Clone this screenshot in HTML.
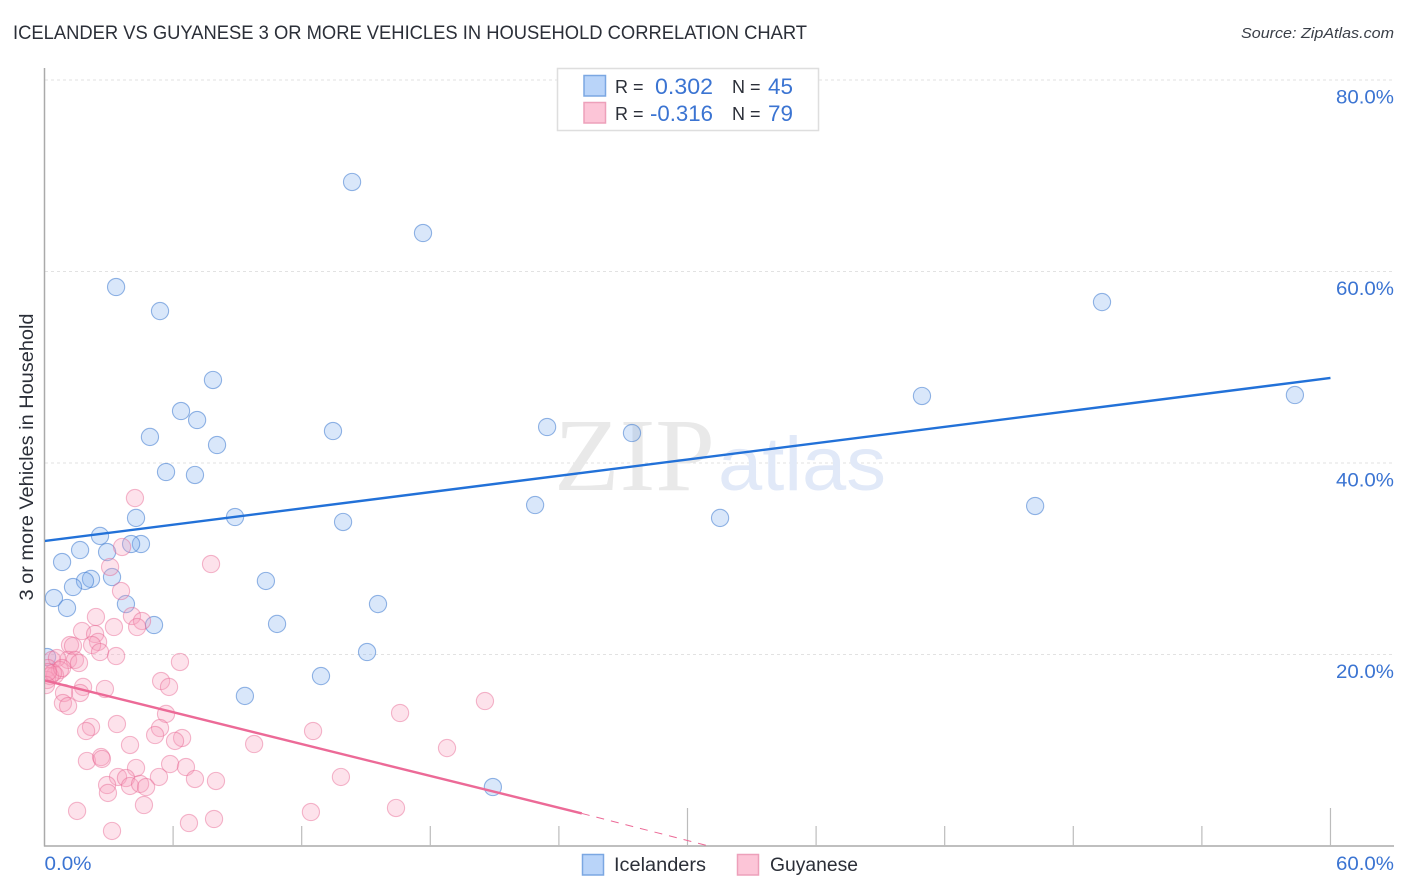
<!DOCTYPE html>
<html lang="en">
<head>
<meta charset="utf-8">
<title>Icelander vs Guyanese 3 or More Vehicles in Household Correlation Chart</title>
<style>
html,body{margin:0;padding:0;background:#fff;width:1406px;height:892px;overflow:hidden}
svg{display:block;font-family:"Liberation Sans",sans-serif}
</style>
</head>
<body>
<svg id="chart" xmlns="http://www.w3.org/2000/svg" width="1406" height="892" viewBox="0 0 1406 892">
  <defs><clipPath id="plot-clip"><rect x="45" y="68" width="1349" height="778"/></clipPath></defs>
  <rect width="1406" height="892" fill="#fff"/>
  <text x="13" y="39" font-size="19" fill="#2b2f38" textLength="794" lengthAdjust="spacingAndGlyphs">ICELANDER VS GUYANESE 3 OR MORE VEHICLES IN HOUSEHOLD CORRELATION CHART</text>
  <text x="1394" y="38" font-size="15" font-style="italic" fill="#3a3f48" text-anchor="end" textLength="153" lengthAdjust="spacingAndGlyphs">Source: ZipAtlas.com</text>
  <g id="grid"></g>
  <g>
    <text x="554" y="490" font-family="'Liberation Serif',serif" font-size="104" fill="#e9e9e9" textLength="161" lengthAdjust="spacingAndGlyphs">ZIP</text>
    <text x="718" y="490" font-family="'Liberation Sans',sans-serif" font-size="76" fill="#e1e9f8" textLength="168" lengthAdjust="spacingAndGlyphs">atlas</text>
  </g>
  <g id="axes"></g>
  <g id="points" clip-path="url(#plot-clip)"></g>
  <g id="trends" clip-path="url(#plot-clip)"></g>
  <g id="labels"></g>
  <text transform="translate(33,457) rotate(-90)" font-size="19" fill="#2b2f38" text-anchor="middle" textLength="287" lengthAdjust="spacingAndGlyphs">3 or more Vehicles in Household</text>

  <g>
    <rect x="557.5" y="68.5" width="261" height="62" fill="#fff" stroke="#dedede" stroke-width="1.5"/>
    <rect x="584" y="75.5" width="21.5" height="20.5" fill="#b9d4f9" stroke="#7ba7e2" stroke-width="1.5"/>
    <rect x="584" y="102.5" width="21.5" height="20.5" fill="#fcc5d7" stroke="#eda0ba" stroke-width="1.5"/>
    <text x="615" y="93" font-size="18" fill="#2b2f38">R =</text>
    <text x="713" y="94" font-size="22" fill="#3b74d2" text-anchor="end" textLength="58" lengthAdjust="spacingAndGlyphs">0.302</text>
    <text x="732" y="93" font-size="18" fill="#2b2f38">N =</text>
    <text x="793" y="94" font-size="22" fill="#3b74d2" text-anchor="end" textLength="25" lengthAdjust="spacingAndGlyphs">45</text>
    <text x="615" y="120" font-size="18" fill="#2b2f38">R =</text>
    <text x="713" y="121" font-size="22" fill="#3b74d2" text-anchor="end" textLength="63" lengthAdjust="spacingAndGlyphs">-0.316</text>
    <text x="732" y="120" font-size="18" fill="#2b2f38">N =</text>
    <text x="793" y="121" font-size="22" fill="#3b74d2" text-anchor="end" textLength="25" lengthAdjust="spacingAndGlyphs">79</text>
  </g>

  <g>
    <g>
      <rect x="582.5" y="854.5" width="21" height="20.5" fill="#b9d4f9" stroke="#7ba7e2" stroke-width="1.5"/>
      <text x="614" y="871" font-size="19" fill="#2b2f38" textLength="92" lengthAdjust="spacingAndGlyphs">Icelanders</text>
    </g>
    <g>
      <rect x="737.5" y="854.5" width="21" height="20.5" fill="#fcc5d7" stroke="#eda0ba" stroke-width="1.5"/>
      <text x="770" y="871" font-size="19" fill="#2b2f38" textLength="88" lengthAdjust="spacingAndGlyphs">Guyanese</text>
    </g>
  </g>
</svg>
<script>
const icelanderX = [14.35,17.66,3.34,5.39,49.34,7.86,6.37,7.12,40.94,58.34,4.92,8.05,13.46,23.45,27.41,5.67,7.02,4.27,8.89,13.93,22.89,31.52,46.22,2.59,4.50,4.04,1.66,2.92,0.82,3.15,2.17,1.89,1.33,10.33,0.44,3.80,1.05,15.56,5.11,10.85,15.05,12.90,9.35,20.92,0.12];
const icelanderY = [69.35,64.02,58.38,55.87,56.81,48.67,45.43,44.49,47.00,47.10,42.72,41.88,43.34,43.76,43.13,39.06,38.75,34.26,34.36,33.84,35.61,34.26,35.51,32.38,31.54,31.54,30.91,30.70,29.66,28.09,27.89,27.68,27.05,27.68,25.90,25.27,24.86,25.27,23.08,23.19,20.26,17.75,15.67,6.16,19.74];
const guyaneseX = [2.40,3.24,4.08,4.55,4.32,1.75,2.36,2.50,2.22,2.59,3.34,1.19,1.33,6.32,1.10,1.42,1.61,1.80,2.82,1.66,0.91,0.86,1.10,5.44,5.81,5.67,5.39,5.16,6.42,6.09,9.78,3.38,2.17,1.94,3.99,1.98,2.64,2.68,5.86,6.60,7.02,8.00,5.34,4.27,3.43,3.80,3.99,4.46,4.74,2.92,2.96,4.64,1.52,3.15,6.74,7.91,4.22,3.62,7.77,3.06,3.57,20.55,12.53,16.59,18.78,13.83,12.43,16.40,0.35,0.58,0.16,0.72,0.49,0.12,0.26,0.40,0.07,0.82,0.16];
const guyaneseY = [23.92,22.87,24.02,23.50,22.87,22.45,22.14,21.31,20.99,20.26,19.84,20.99,20.89,19.22,19.43,19.43,19.11,16.61,16.40,15.98,15.98,14.93,14.62,17.23,16.61,13.79,12.32,11.59,11.28,10.97,10.65,12.74,12.43,12.01,10.55,8.88,9.29,9.09,8.56,8.25,7.00,6.79,7.21,8.15,7.21,7.10,6.27,6.48,6.16,6.37,5.54,4.28,3.66,1.57,2.40,2.82,36.34,31.23,29.45,29.14,26.63,15.14,12.01,13.89,10.23,7.21,3.55,3.97,19.43,19.63,18.59,18.38,17.86,17.34,17.75,18.07,16.81,18.59,18.17];
const icelanderTrendX = [0,60];
const icelanderTrendY = [31.85,48.88];
const guyaneseTrendSolidX = [0,25.07];
const guyaneseTrendSolidY = [17.3,3.4];
const guyaneseTrendDashX = [25.07,31];
const guyaneseTrendDashY = [3.4,0];
const yTicks = [20,40,60,80];
const yTickLabels = ['20.0%','40.0%','60.0%','80.0%'];
const xTicks = [6,12,18,24,30,36,42,48,54,60];
const xMajorTicks = [30,60];
const xEndTicks = [0,60];
const xEndLabels = ['0.0%','60.0%'];

const SVGNS = 'http://www.w3.org/2000/svg';
const sx = v => 44.5 + v * 21.433;
const sy = v => 846 - v * 9.575;
function make(tag, attrs, parent) {
  const el = document.createElementNS(SVGNS, tag);
  for (const k in attrs) el.setAttribute(k, attrs[k]);
  parent.appendChild(el);
  return el;
}
const grid = document.getElementById('grid');
const axes = document.getElementById('axes');
const points = document.getElementById('points');
const trends = document.getElementById('trends');
const labels = document.getElementById('labels');

yTicks.forEach((t, i) => {
  const line = make('line', {x1: 45, x2: 1394, y1: sy(t), y2: sy(t), stroke: '#e2e2e2', 'stroke-width': 1, 'stroke-dasharray': '3 3'}, grid);
  
  
  const label = make('text', {x: 1394, y: sy(t) + 23.5, 'font-size': 19, fill: '#3b74d2', 'text-anchor': 'end', textLength: 58, lengthAdjust: 'spacingAndGlyphs'}, labels);
  label.textContent = yTickLabels[i];
  
  
});

const yAxis = make('line', {x1: 44.5, x2: 44.5, y1: 68, y2: 846.5, stroke: '#aaaaaa', 'stroke-width': 1.5}, axes);


const xAxis = make('line', {x1: 44, x2: 1394, y1: 846, y2: 846, stroke: '#aaaaaa', 'stroke-width': 1.5}, axes);



xTicks.forEach(t => {
  const top = xMajorTicks.includes(t) ? 808 : 826;
  const tick = make('line', {x1: sx(t), x2: sx(t), y1: top, y2: 846, stroke: '#bcbcbc', 'stroke-width': 1.2}, axes);
  
  
});

xEndTicks.forEach((t, i) => {
  const isLast = i === xEndTicks.length - 1;
  const label = make('text', {x: isLast ? 1394 : sx(t), y: 870, 'font-size': 19, fill: '#3b74d2', 'text-anchor': isLast ? 'end' : 'start', textLength: isLast ? 58 : 47, lengthAdjust: 'spacingAndGlyphs'}, labels);
  label.textContent = xEndLabels[i];
  
  
});

icelanderX.forEach((x, i) => {
  const c = make('circle', {cx: sx(x), cy: sy(icelanderY[i]), r: 8.6, fill: 'rgba(128,176,240,0.3)', stroke: 'rgba(62,122,208,0.55)', 'stroke-width': 1.1}, points);
  
  
});
guyaneseX.forEach((x, i) => {
  const c = make('circle', {cx: sx(x), cy: sy(guyaneseY[i]), r: 8.6, fill: 'rgba(247,160,188,0.3)', stroke: 'rgba(230,100,145,0.45)', 'stroke-width': 1.1}, points);
  
  
});

const blueTrend = make('line', {x1: sx(icelanderTrendX[0]), y1: sy(icelanderTrendY[0]), x2: sx(icelanderTrendX[1]), y2: sy(icelanderTrendY[1]), stroke: '#2271d8', 'stroke-width': 2.4}, trends);


const pinkTrend = make('line', {x1: sx(guyaneseTrendSolidX[0]), y1: sy(guyaneseTrendSolidY[0]), x2: sx(guyaneseTrendSolidX[1]), y2: sy(guyaneseTrendSolidY[1]), stroke: '#ec6a97', 'stroke-width': 2.4}, trends);


const pinkDash = make('line', {x1: sx(guyaneseTrendDashX[0]), y1: sy(guyaneseTrendDashY[0]), x2: sx(guyaneseTrendDashX[1]), y2: sy(guyaneseTrendDashY[1]), stroke: '#ec6a97', 'stroke-width': 1, 'stroke-dasharray': '8 7'}, trends);


</script>
</body>
</html>
